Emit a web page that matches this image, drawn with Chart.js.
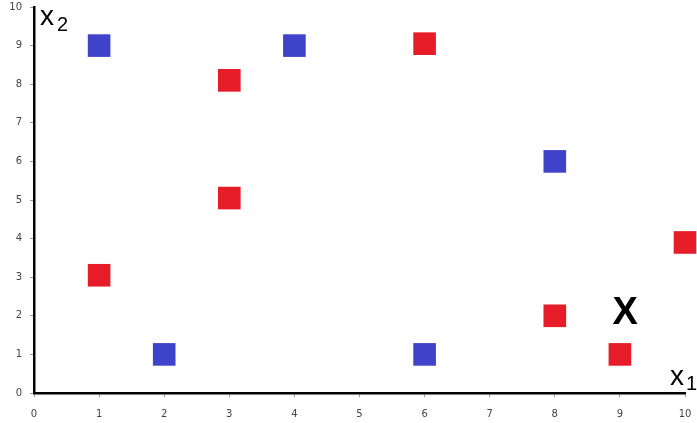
<!DOCTYPE html>
<html>
<head>
<meta charset="utf-8">
<script src="https://cdn.jsdelivr.net/npm/chart.js@4/dist/chart.umd.min.js"></script>
<style>
  html, body { margin: 0; padding: 0; background: #fff; }
  #wrap { width: 697px; height: 423px; }
</style>
</head>
<body>
<div id="wrap"><canvas id="chart"></canvas></div>
<script>
// class A (blue) and class B (red) points, plus the query point
const blueX = [1, 4, 8, 2, 6];
const blueY = [9, 9, 6, 1, 1];
const redX = [3, 6, 3, 1, 8, 9, 10];
const redY = [8.1, 9.05, 5.05, 3.05, 2, 1, 3.9];
const queryPoint = { x: 9.08, y: 2.05, label: 'X' };
const tickValues = [0, 1, 2, 3, 4, 5, 6, 7, 8, 9, 10];

const toPoints = (xs, ys) => xs.map((x, i) => ({ x: x, y: ys[i] }));

// draws the axis names and the big X marker
const labelsPlugin = {
  id: 'labels',
  afterDatasetsDraw(chart) {
    const { ctx, scales: { x, y } } = chart;
    ctx.save();
    ctx.fillStyle = '#000';
    ctx.textBaseline = 'alphabetic';
    ctx.textAlign = 'left';

    // x2 top left
    ctx.font = '28px "Liberation Sans", Arial, sans-serif';
    ctx.fillText('x', 40, 25);
    ctx.font = '20px "Liberation Sans", Arial, sans-serif';
    ctx.fillText('2', 57, 31);

    // x1 bottom right
    ctx.font = '28px "Liberation Sans", Arial, sans-serif';
    ctx.fillText('x', 670, 385);
    ctx.font = '20px "Liberation Sans", Arial, sans-serif';
    ctx.fillText('1', 686, 390);

    // query point
    ctx.font = 'bold 38px "Liberation Sans", Arial, sans-serif';
    ctx.textAlign = 'center';
    ctx.textBaseline = 'middle';
    ctx.fillText(queryPoint.label, x.getPixelForValue(queryPoint.x), y.getPixelForValue(queryPoint.y));
    ctx.restore();
  }
};

const axisCommon = {
  type: 'linear',
  min: 0,
  max: 10,
  border: { display: true, color: '#000', width: 2.5 },
  grid: { display: true, drawOnChartArea: false, drawTicks: true, tickLength: 4, color: '#999', tickColor: '#999' },
};

new Chart(document.getElementById('chart'), {
  type: 'scatter',
  data: {
    datasets: [
      {
        label: 'blue',
        data: toPoints(blueX, blueY),
        pointStyle: 'rect',
        pointRadius: 16,
        pointHoverRadius: 16,
        backgroundColor: '#3f43c9',
        borderWidth: 0,
        clip: false,
      },
      {
        label: 'red',
        data: toPoints(redX, redY),
        pointStyle: 'rect',
        pointRadius: 16,
        pointHoverRadius: 16,
        backgroundColor: '#e61d29',
        borderWidth: 0,
        clip: false,
      },
    ],
  },
  options: {
    responsive: true,
    maintainAspectRatio: false,
    animation: false,
    events: [],
    layout: { autoPadding: false, padding: { top: 7, right: 12, left: 0, bottom: 0 } },
    plugins: { legend: { display: false }, tooltip: { enabled: false } },
    scales: {
      x: {
        ...axisCommon,
        afterBuildTicks(scale) { scale.ticks = tickValues.map(v => ({ value: v })); },
        afterFit(scale) { scale.height = 30; scale.paddingLeft = 0; scale.paddingRight = 0; },
        ticks: { color: '#444', font: { size: 10, family: 'DejaVu Sans' }, padding: 11, maxRotation: 0 },
      },
      y: {
        ...axisCommon,
        afterBuildTicks(scale) { scale.ticks = tickValues.map(v => ({ value: v })); },
        afterFit(scale) { scale.width = 34; scale.paddingTop = 0; scale.paddingBottom = 0; },
        ticks: { color: '#444', font: { size: 10, family: 'DejaVu Sans' }, padding: 8 },
      },
    },
  },
  plugins: [labelsPlugin],
});
</script>
</body>
</html>
